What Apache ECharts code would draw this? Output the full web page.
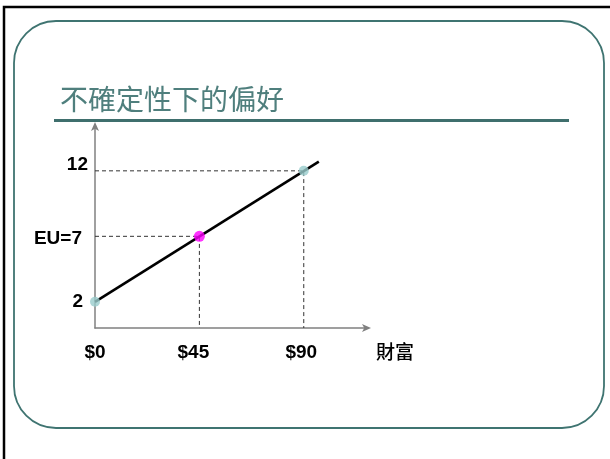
<!DOCTYPE html>
<html>
<head>
<meta charset="utf-8">
<script src="https://cdn.jsdelivr.net/npm/echarts@6/dist/echarts.min.js"></script>
<style>html,body{margin:0;padding:0;background:#fff;}#c{width:610px;height:459px;}</style>
</head>
<body>
<div id="c"></div>
<script>
const titleText = '不確定性下的偏好';
const xAxisName = '財富';
const wealthTicks = [0, 45, 90];
const utilityTicks = [2, 7, 12];
const utilityLabels = ['2', 'EU=7', '12'];
const lineX = [0, 96.5];
const lineY = [2, 12.7];
const outcomeX = [0, 90];
const outcomeY = [2, 12];
const euX = [45];
const euY = [7];

const chart = echarts.init(document.getElementById('c'), null, {renderer: 'canvas'});
const labelFont = 'Liberation Sans, Arial, sans-serif';
const cjk = '"Noto Sans CJK TC", "Noto Sans CJK SC", sans-serif';

function guide(x, y) { return [[0, y], [x, y], [x, 0]]; }

const option = {
  animation: false,
  backgroundColor: '#ffffff',
  graphic: [
    {type: 'rect', shape: {x: 4, y: 7, width: 700, height: 600}, style: {fill: 'none', stroke: '#000', lineWidth: 2.5}, silent: true, z: 1},
    {type: 'rect', shape: {x: 14, y: 21, width: 590, height: 407, r: 42}, style: {fill: 'none', stroke: '#3f7471', lineWidth: 1.8}, silent: true, z: 1},
    {type: 'text', left: 60, top: 85, style: {text: titleText, font: '28px ' + cjk, fill: '#4f7f7d'}, silent: true, z: 2},
    {type: 'rect', shape: {x: 54, y: 119, width: 515, height: 3}, style: {fill: '#3f6f6d'}, silent: true, z: 2}
  ],
  grid: {left: 95, right: 242, top: 125, bottom: 131},
  xAxis: {
    type: 'value', min: 0, max: 117.7,
    splitLine: {show: false},
    axisTick: {show: false},
    axisLine: {lineStyle: {color: '#808080', width: 1.5}, symbol: ['none', 'arrow'], symbolSize: [6, 9], symbolOffset: [0, 3]},
    axisLabel: {
      customValues: wealthTicks,
      margin: 15,
      formatter: function (v) {
        if (v === 45) return '{m|$' + v + '}';
        if (v === 90) return '{r|$' + v + '}';
        return '$' + v;
      },
      color: '#000', fontSize: 19, fontWeight: 'bold', fontFamily: labelFont,
      rich: {
        m: {fontSize: 19, fontWeight: 'bold', fontFamily: labelFont, color: '#000', padding: [0, 12, 0, 0]},
        r: {fontSize: 19, fontWeight: 'bold', fontFamily: labelFont, color: '#000', padding: [0, 5, 0, 0]}
      }
    },
    name: xAxisName,
    nameLocation: 'end',
    nameGap: 8,
    nameTextStyle: {color: '#000', fontSize: 19, fontWeight: 500, fontFamily: cjk, verticalAlign: 'top', align: 'left', padding: [14, 0, 0, 0]}
  },
  yAxis: {
    type: 'value', min: 0, max: 15.5,
    splitLine: {show: false},
    axisTick: {show: false},
    axisLine: {lineStyle: {color: '#808080', width: 1.5}, symbol: ['none', 'arrow'], symbolSize: [6, 9], symbolOffset: [0, 3]},
    axisLabel: {
      customValues: utilityTicks,
      margin: 7,
      formatter: function (v) {
        const lab = utilityLabels[utilityTicks.indexOf(v)];
        if (v === 12) return '{t|' + lab + '}';
        if (v === 7) return '{e|' + lab + '}';
        return '{b|' + lab + '}';
      },
      color: '#000', fontSize: 19, fontWeight: 'bold', fontFamily: labelFont,
      rich: {
        t: {fontSize: 19, fontWeight: 'bold', fontFamily: labelFont, color: '#000', padding: [0, 0, 12, 0]},
        e: {fontSize: 19, fontWeight: 'bold', fontFamily: labelFont, color: '#000', padding: [4, 6, 0, 0]},
        b: {fontSize: 19, fontWeight: 'bold', fontFamily: labelFont, color: '#000', padding: [0, 5, 0, 0]}
      }
    }
  },
  series: [
    {type: 'line', data: guide(outcomeX[1], outcomeY[1]), symbol: 'none', lineStyle: {color: '#333', width: 1, type: [4, 3]}, z: 2, silent: true},
    {type: 'line', data: guide(euX[0], euY[0]), symbol: 'none', lineStyle: {color: '#333', width: 1, type: [4, 3]}, z: 2, silent: true},
    {type: 'line', data: lineX.map((x, i) => [x, lineY[i]]), symbol: 'none', lineStyle: {color: '#000', width: 2.6}, z: 3, silent: true},
    {type: 'scatter', data: outcomeX.map((x, i) => [x, outcomeY[i]]), symbolSize: 10, itemStyle: {color: '#99cccc'}, z: 4, silent: true},
    {type: 'scatter', data: euX.map((x, i) => [x, euY[i]]), symbolSize: 11, itemStyle: {color: '#ff00ff'}, z: 4, silent: true}
  ]
};
chart.setOption(option);
</script>
</body>
</html>
